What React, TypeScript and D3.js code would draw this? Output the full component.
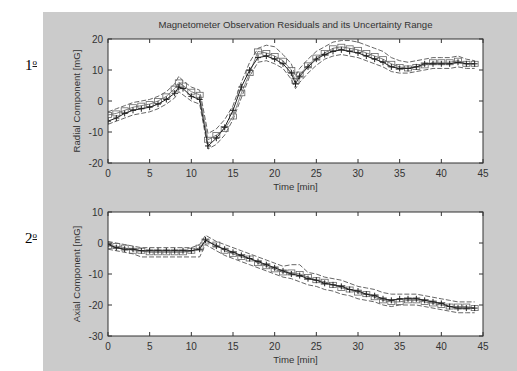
import { useRef, useEffect } from 'react';
import * as d3 from 'd3';

const TITLE = 'Magnetometer Observation Residuals and its Uncertainty Range';

const xTicks = [0, 5, 10, 15, 20, 25, 30, 35, 40, 45];
const radialTicks = [-20, -10, 0, 10, 20];
const axialTicks = [-30, -20, -10, 0, 10];

const radialTime = [0, 1, 2, 3, 4, 5, 6, 7, 8, 8.5, 9, 10, 11, 12, 13, 14, 15, 16, 17, 18, 19, 20, 21, 22, 22.5, 23, 24, 25, 26, 27, 28, 29, 30, 31, 32, 33, 34, 35, 36, 37, 38, 39, 40, 41, 42, 43, 44];
const radialPlus = [-6.5, -5.5, -4, -3, -2.5, -2, -1, 0.5, 2.5, 4.5, 4, 1.5, 0.5, -14.5, -12, -8.5, -3, 4.5, 10, 14, 14.5, 13.5, 12, 9, 5.5, 8, 11, 13.5, 15, 16, 16.5, 16, 15.5, 14.5, 13.5, 12.5, 11, 10.5, 10.5, 11, 12, 12, 12, 12, 12.5, 12, 12];
const radialSquare = [-4.5, -4, -3, -2, -1.5, -1, 0, 1.5, 4, 6, 5, 3, 2, -12.5, -11, -9, -5, 2.5, 9, 16, 15.5, 14.5, 13, 10, 6.5, 8.5, 11.5, 14, 15.5, 17, 17.5, 17, 16.5, 15.5, 14.5, 13.5, 12, 11, 10.5, 11, 11.5, 12.5, 12.5, 12.5, 13, 12, 12];
const radialUpper = [-3.5, -2.5, -1.5, -0.5, 0, 0.5, 1.5, 3, 5.5, 8, 6.5, 4.5, 3.5, -10.5, -9, -6, -1.5, 6, 12.5, 17, 18, 17.5, 15, 12, 8, 10.5, 13.5, 16, 17.5, 19, 19.5, 19.5, 19, 18, 17, 16, 14, 13, 12.5, 13, 13.5, 14, 14, 14, 14.5, 13.5, 13];
const radialLower = [-7.5, -6.5, -5.5, -4.5, -4, -3.5, -2.5, -1, 1, 3, 2, 0, -1, -15.5, -14, -11, -6, 1, 8, 12.5, 13, 12, 10.5, 7, 4, 6, 9, 11.5, 13.5, 14.5, 15, 14.5, 14, 13, 12, 11, 9.5, 9, 9, 9.5, 10, 10.5, 10.5, 10.5, 11, 10.5, 10.5];

const axialTime = [0, 1, 2, 3, 4, 5, 6, 7, 8, 9, 10, 11, 11.7, 13, 14, 15, 16, 17, 18, 19, 20, 21, 22, 23, 24, 25, 26, 27, 28, 29, 30, 31, 32, 33, 34, 35, 36, 37, 38, 39, 40, 41, 42, 43, 44];
const axialPlus = [-0.5, -1.5, -2, -2, -2.5, -2.5, -2.5, -2.5, -2.5, -2.5, -2.5, -2, 1, -1, -2, -3, -4, -5, -6, -7, -8, -9, -10, -10.5, -11.5, -12, -13, -13.5, -14, -15, -15.5, -16.5, -17, -18, -18.5, -18, -18, -18, -18.5, -19, -19.5, -20.5, -21, -21, -21];
const axialSquare = [-1, -1, -1.5, -2.5, -2.5, -3, -3, -3, -3, -3, -2.5, -1.5, 0.5, -0.5, -2.5, -3.5, -4.5, -5, -6.5, -7.5, -8.5, -9.5, -9.5, -10, -11, -12, -12.5, -13.5, -14.5, -15, -16, -16.5, -17.5, -18.5, -19, -19, -18.5, -18.5, -19, -19.5, -20, -20.5, -20.5, -20.5, -21];
const axialUpper = [0.5, 0, -0.5, -1, -1.5, -1.5, -1.5, -1.5, -1.5, -1.5, -1.5, -0.5, 2.5, 0.5, -0.5, -1.5, -2.5, -3.5, -4.5, -5.5, -6.5, -7.5, -7, -7, -9.5, -10, -11, -11.5, -12, -13, -14, -14.5, -15, -16, -16.5, -16.5, -16.5, -16.5, -17, -17.5, -18, -18.5, -19, -19, -19];
const axialLower = [-2, -2.5, -3, -3.5, -4.5, -4.5, -4.5, -4.5, -4.5, -4.5, -4.5, -4.5, -0.5, -2.5, -4, -5, -6, -7, -8, -9, -10, -11, -11.5, -12.5, -13.5, -14, -15, -15.5, -16.5, -17, -18, -18.5, -19, -20, -20.5, -20, -20, -20, -20.5, -21, -21.5, -22, -22.5, -22.5, -22.5];

interface Panel {
  top: number;
  domain: [number, number];
  ticks: number[];
  ylabel: string;
  tag: string;
  time: number[];
  plus: number[];
  square: number[];
  upper: number[];
  lower: number[];
}

const panels: Panel[] = [
  { top: 39, domain: [-20, 20], ticks: radialTicks, ylabel: 'Radial Component [mG]', tag: '1', time: radialTime, plus: radialPlus, square: radialSquare, upper: radialUpper, lower: radialLower },
  { top: 212, domain: [-30, 10], ticks: axialTicks, ylabel: 'Axial Component [mG]', tag: '2', time: axialTime, plus: axialPlus, square: axialSquare, upper: axialUpper, lower: axialLower },
];

export default function App() {
  const svgRef = useRef<SVGSVGElement>(null);

  useEffect(() => {
    if (!svgRef.current) return;
    const svg = d3.select(svgRef.current);
    svg.selectAll('*').remove();

    const width = 517;
    const height = 371;
    const left = 108;
    const innerW = 375;
    const innerH = 124;
    const ink = '#333';
    const font = 'Liberation Sans, Arial, sans-serif';

    svg.attr('width', width).attr('height', height);
    svg.append('rect').attr('width', width).attr('height', height).attr('fill', '#fff');
    svg.append('rect')
      .attr('x', 43).attr('y', 12)
      .attr('width', width - 43).attr('height', height - 12)
      .attr('fill', '#cbcbcb');

    svg.append('text')
      .attr('x', left + innerW / 2).attr('y', 28)
      .attr('text-anchor', 'middle')
      .attr('fill', ink).style('font-family', font).style('font-size', '9.6px')
      .text(TITLE);

    const xScale = d3.scaleLinear().domain([0, 45]).range([0, innerW]);

    panels.forEach((p, pi) => {
      const yScale = d3.scaleLinear().domain(p.domain).range([innerH, 0]);
      const g = svg.append('g').attr('transform', `translate(${left},${p.top})`);

      g.append('rect').attr('width', innerW).attr('height', innerH).attr('fill', '#fff');

      const clipId = `clip${pi}`;
      svg.append('clipPath').attr('id', clipId)
        .append('rect').attr('width', innerW).attr('height', innerH);
      const plot = g.append('g').attr('clip-path', `url(#${clipId})`);

      const line = d3.line<number>()
        .x((_, i) => xScale(p.time[i]))
        .y((d) => yScale(d));

      // uncertainty bounds
      [p.upper, p.lower].forEach((arr) => {
        plot.append('path')
          .datum(arr)
          .attr('d', line)
          .attr('fill', 'none')
          .attr('stroke', '#555')
          .attr('stroke-width', 0.9)
          .attr('stroke-dasharray', '5,2');
      });

      // estimate with squares
      plot.append('path')
        .datum(p.square)
        .attr('d', line)
        .attr('fill', 'none')
        .attr('stroke', '#666')
        .attr('stroke-width', 0.8);
      p.square.forEach((v, i) => {
        plot.append('rect')
          .attr('x', xScale(p.time[i]) - 3.5).attr('y', yScale(v) - 2.5)
          .attr('width', 7).attr('height', 5)
          .attr('fill', 'none')
          .attr('stroke', '#666')
          .attr('stroke-width', 0.8);
      });

      // residuals with plus markers
      plot.append('path')
        .datum(p.plus)
        .attr('d', line)
        .attr('fill', 'none')
        .attr('stroke', '#222')
        .attr('stroke-width', 1);
      p.plus.forEach((v, i) => {
        const cx = xScale(p.time[i]);
        const cy = yScale(v);
        plot.append('path')
          .attr('d', `M${cx - 3},${cy}H${cx + 3}M${cx},${cy - 3}V${cy + 3}`)
          .attr('stroke', '#222')
          .attr('stroke-width', 1);
      });

      // frame
      g.append('rect').attr('width', innerW).attr('height', innerH)
        .attr('fill', 'none').attr('stroke', ink).attr('stroke-width', 1);

      // inner ticks on all sides
      xTicks.forEach((t) => {
        const x = xScale(t);
        g.append('line').attr('x1', x).attr('x2', x).attr('y1', innerH).attr('y2', innerH - 4).attr('stroke', ink);
        g.append('line').attr('x1', x).attr('x2', x).attr('y1', 0).attr('y2', 4).attr('stroke', ink);
        g.append('text')
          .attr('x', x).attr('y', innerH + 14)
          .attr('text-anchor', 'middle')
          .attr('fill', ink).style('font-family', font).style('font-size', '10px')
          .text(t);
      });
      p.ticks.forEach((t) => {
        const y = yScale(t);
        g.append('line').attr('x1', 0).attr('x2', 4).attr('y1', y).attr('y2', y).attr('stroke', ink);
        g.append('line').attr('x1', innerW).attr('x2', innerW - 4).attr('y1', y).attr('y2', y).attr('stroke', ink);
        g.append('text')
          .attr('x', -5).attr('y', y + 3.5)
          .attr('text-anchor', 'end')
          .attr('fill', ink).style('font-family', font).style('font-size', '10px')
          .text(t);
      });

      // labels
      g.append('text')
        .attr('x', innerW / 2).attr('y', innerH + 27)
        .attr('text-anchor', 'middle')
        .attr('fill', ink).style('font-family', font).style('font-size', '9.6px')
        .text('Time [min]');
      g.append('text')
        .attr('transform', `translate(${77 - left + 3}, ${innerH / 2}) rotate(-90)`)
        .attr('text-anchor', 'middle')
        .attr('fill', ink).style('font-family', font).style('font-size', '9.6px')
        .text(p.ylabel);

      // ordinal tag, e.g. "1º"
      const tag = svg.append('text')
        .attr('x', 25).attr('y', p.top + 31)
        .attr('fill', '#000').style('font-family', 'Liberation Serif, Times New Roman, serif').style('font-size', '15px');
      tag.append('tspan').text(p.tag);
      tag.append('tspan')
        .attr('dy', -5)
        .style('font-size', '9px')
        .style('text-decoration', 'underline')
        .text('o');
    });
  }, []);

  return (
    <svg ref={svgRef} style={{ position: 'absolute', left: 0, top: 0, display: 'block' }} />
  );
}
